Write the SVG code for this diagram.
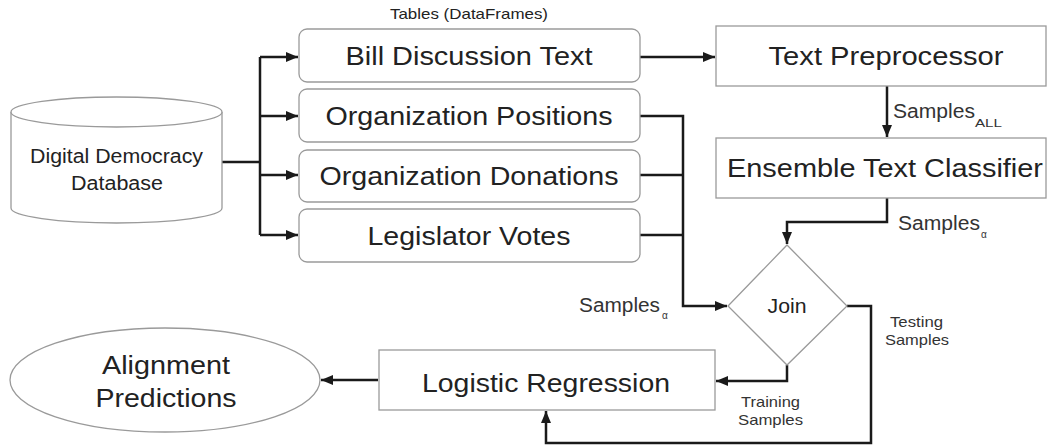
<svg xmlns="http://www.w3.org/2000/svg" width="1047" height="446" viewBox="0 0 1047 446">
  <style>
    .shape { fill: #ffffff; stroke: #9a9a9a; stroke-width: 1.3; }
    .wire { fill: none; stroke: #1a1a1a; stroke-width: 2.5; }
    .t { font-family: "Liberation Sans", Arial, sans-serif; fill: #222222; text-anchor: middle; }
    .big { font-size: 25px; }
    .lbl { font-family: "Liberation Sans", Arial, sans-serif; fill: #333333; }
  </style>
  <defs>
    <marker id="arrow" viewBox="0 0 12 10" refX="12" refY="5" markerWidth="12" markerHeight="10" markerUnits="userSpaceOnUse" orient="auto">
      <path d="M0,0 L12,5 L0,10 Z" fill="#1a1a1a"/>
    </marker>
  </defs>
  <rect width="1047" height="446" fill="#ffffff"/>

  <!-- connectors -->
  <g id="connectors">
    <!-- database fan-out to tables -->
    <path class="wire" d="M222,162 H260"/>
    <path class="wire" d="M260,57 V235"/>
    <path class="wire" d="M260,57 H298" marker-end="url(#arrow)"/>
    <path class="wire" d="M260,116 H298" marker-end="url(#arrow)"/>
    <path class="wire" d="M260,175 H298" marker-end="url(#arrow)"/>
    <path class="wire" d="M260,235 H298" marker-end="url(#arrow)"/>
    <!-- text pipeline -->
    <path class="wire" d="M640,57 H715" marker-end="url(#arrow)"/>
    <path class="wire" d="M887,86 V137" marker-end="url(#arrow)"/>
    <path class="wire" d="M887,198 V222 H787 V244" marker-end="url(#arrow)"/>
    <!-- tables into join -->
    <path class="wire" d="M640,116 H683 V306 H727" marker-end="url(#arrow)"/>
    <path class="wire" d="M640,175 H683"/>
    <path class="wire" d="M640,235 H683"/>
    <!-- join outputs -->
    <path class="wire" d="M787,365 V381 H716" marker-end="url(#arrow)"/>
    <path class="wire" d="M847,306 H871 V443 H546 V411" marker-end="url(#arrow)"/>
    <!-- regression to predictions -->
    <path class="wire" d="M378,380 H321" marker-end="url(#arrow)"/>
  </g>

  <g id="database">
    <path class="shape" d="M11,112 V208 A105.5,15 0 0 0 222,208 V112"/>
    <ellipse class="shape" cx="116.5" cy="112" rx="105.5" ry="15"/>
    <text class="t" font-size="20" x="116.5" y="163" textLength="173" lengthAdjust="spacingAndGlyphs">Digital Democracy</text>
    <text class="t" font-size="20" x="117" y="190" textLength="92" lengthAdjust="spacingAndGlyphs">Database</text>
  </g>

  <text class="t" font-size="15" x="469" y="19" fill="#444" textLength="158" lengthAdjust="spacingAndGlyphs">Tables (DataFrames)</text>

  <g id="bill-text">
    <rect class="shape" x="299" y="29" width="341" height="53" rx="8"/>
    <text class="t big" x="469" y="65" textLength="247" lengthAdjust="spacingAndGlyphs">Bill Discussion Text</text>
  </g>
  <g id="org-positions">
    <rect class="shape" x="299" y="89" width="341" height="53" rx="8"/>
    <text class="t big" x="469" y="125" textLength="287" lengthAdjust="spacingAndGlyphs">Organization Positions</text>
  </g>
  <g id="org-donations">
    <rect class="shape" x="299" y="150" width="341" height="52" rx="8"/>
    <text class="t big" x="469" y="185" textLength="299" lengthAdjust="spacingAndGlyphs">Organization Donations</text>
  </g>
  <g id="legislator-votes">
    <rect class="shape" x="299" y="209" width="341" height="53" rx="8"/>
    <text class="t big" x="469" y="245" textLength="203" lengthAdjust="spacingAndGlyphs">Legislator Votes</text>
  </g>

  <g id="text-preprocessor">
    <rect class="shape" x="716" y="26" width="330" height="60"/>
    <text class="t big" x="886" y="65" textLength="235" lengthAdjust="spacingAndGlyphs">Text Preprocessor</text>
  </g>
  <text class="lbl" font-size="20" x="893" y="118" textLength="82" lengthAdjust="spacingAndGlyphs">Samples</text>
  <text class="lbl" font-size="11" x="975" y="127" textLength="27" lengthAdjust="spacingAndGlyphs">ALL</text>

  <g id="ensemble-classifier">
    <rect class="shape" x="716" y="138" width="330" height="60"/>
    <text class="t big" x="885" y="177" textLength="316" lengthAdjust="spacingAndGlyphs">Ensemble Text Classifier</text>
  </g>
  <text class="lbl" font-size="20" x="898" y="230" textLength="82" lengthAdjust="spacingAndGlyphs">Samples</text>
  <text class="lbl" font-size="10" x="981" y="238">α</text>

  <g id="join">
    <path class="shape" d="M787,245 L847,306 L787,365 L728,306 Z"/>
    <text class="t" font-size="21" x="787" y="313" textLength="39" lengthAdjust="spacingAndGlyphs">Join</text>
  </g>
  <text class="lbl" font-size="20" x="579" y="312" textLength="81" lengthAdjust="spacingAndGlyphs">Samples</text>
  <text class="lbl" font-size="10" x="662" y="319">α</text>
  <text class="lbl" font-size="15" x="890" y="327" textLength="53" lengthAdjust="spacingAndGlyphs">Testing</text>
  <text class="lbl" font-size="15" x="885" y="345" textLength="64" lengthAdjust="spacingAndGlyphs">Samples</text>
  <text class="lbl" font-size="15" x="741" y="407" textLength="59" lengthAdjust="spacingAndGlyphs">Training</text>
  <text class="lbl" font-size="15" x="738" y="425" textLength="65" lengthAdjust="spacingAndGlyphs">Samples</text>

  <g id="logistic-regression">
    <rect class="shape" x="379" y="350" width="336" height="60"/>
    <text class="t big" x="546" y="392" textLength="248" lengthAdjust="spacingAndGlyphs">Logistic Regression</text>
  </g>

  <g id="alignment-predictions">
    <ellipse class="shape" cx="165" cy="380" rx="155" ry="52"/>
    <text class="t" font-size="26" x="166" y="374" textLength="128" lengthAdjust="spacingAndGlyphs">Alignment</text>
    <text class="t" font-size="26" x="166" y="407" textLength="141" lengthAdjust="spacingAndGlyphs">Predictions</text>
  </g>
</svg>
